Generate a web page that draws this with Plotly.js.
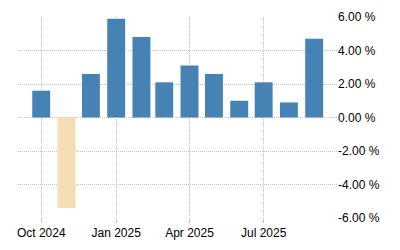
<!DOCTYPE html>
<html>
<head>
<meta charset="utf-8">
<script src="https://cdn.plot.ly/plotly-3.0.1.min.js"></script>
<style>html,body{margin:0;padding:0;background:#fff;}#chart{width:400px;height:250px;}</style>
</head>
<body>
<div id="chart"></div>
<script>
var months = ["2024-10-01","2024-11-01","2024-12-01","2025-01-01","2025-02-01","2025-03-01","2025-04-01","2025-05-01","2025-06-01","2025-07-01","2025-08-01","2025-09-01"];
var values = [1.6, -5.4, 2.6, 5.9, 4.8, 2.1, 3.1, 2.6, 1.0, 2.1, 0.9, 4.7];
var xTickVals = ["2024-10-01","2025-01-01","2025-04-01","2025-07-01"];
var xTickText = ["Oct 2024","Jan 2025","Apr 2025","Jul 2025"];
var yTickVals = [-6, -4, -2, 0, 2, 4, 6];
var yTickText = ["-6.00 %","-4.00 %","-2.00 %","0.00 %","2.00 %","4.00 %","6.00 %"];

var colors = values.map(function(v){ return v < 0 ? "#F5DEB3" : "#4682B4"; });
var DAY = 86400000;

var trace = {
  type: "bar",
  x: months,
  y: values,
  width: 22 * DAY,
  marker: {color: colors, line: {width: 0}},
  hoverinfo: "x+y"
};

var layout = {
  width: 400,
  height: 250,
  margin: {l: 18, r: 63, t: 17, b: 32, pad: 0},
  paper_bgcolor: "#fff",
  plot_bgcolor: "#fff",
  showlegend: false,
  font: {family: "Liberation Sans, Arial, sans-serif", size: 12, color: "#000"},
  xaxis: {
    type: "date",
    range: ["2024-09-02 12:00", "2025-09-29"],
    tickvals: xTickVals,
    ticktext: xTickText,
    showgrid: true,
    gridcolor: "#c4c4c4",
    griddash: "1px,1px",
    gridwidth: 1,
    ticks: "outside",
    ticklen: 4,
    tickcolor: "#c4c4c4",
    showline: false,
    zeroline: false,
    tickfont: {size: 12, color: "#000"}
  },
  yaxis: {
    side: "right",
    range: [-6, 6],
    tickvals: yTickVals,
    ticktext: yTickText,
    showgrid: true,
    gridcolor: "#c4c4c4",
    griddash: "1px,1px",
    gridwidth: 1,
    zeroline: false,
    showline: false,
    ticks: "",
    tickfont: {size: 12, color: "#000"}
  }
};

Plotly.newPlot("chart", [trace], layout, {displayModeBar: false, staticPlot: true});
</script>
</body>
</html>
